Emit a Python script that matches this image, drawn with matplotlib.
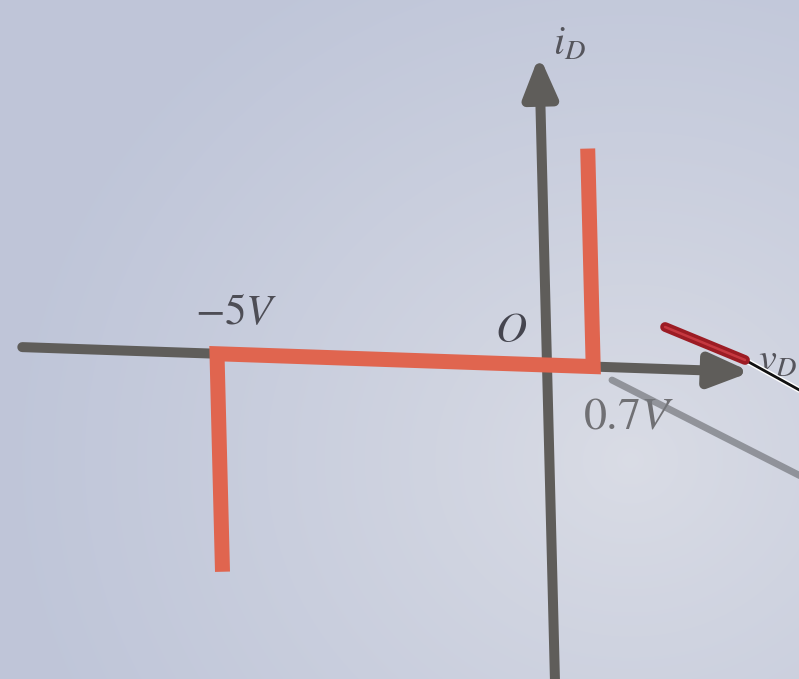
"""Diode i-v characteristic with a -5 V breakdown and a 0.7 V forward knee,
drawn as a projected slide (slightly skewed axes, pointer resting on it)."""

import matplotlib

matplotlib.use("Agg")
import matplotlib.pyplot as plt
import numpy as np
from matplotlib.transforms import Affine2D

plt.rcParams["mathtext.fontset"] = "stix"

# axis extents (volts, mA)
V_AXIS = [-7.95, 3.09]
I_AXIS = [-14.6, 14.2]

# piecewise-linear characteristic: breakdown at -5 V, conduction at 0.7 V
CURVE_V = [-5.0, -5.0, 0.7, 0.7]
CURVE_I = [-10.0, 0.0, 0.0, 10.0]

# labels: (text, v, i, fontsize, colour)
LABELS = [
    (r"$i_D$", 0.47, 14.8, 29, "#55555c"),
    (r"$-5V$", -4.69, 1.95, 31, "#4d4d55"),
    (r"$O$", -0.53, 1.55, 31, "#45454f"),
    (r"$\mathrm{0.7}V$", 1.21, -2.2, 33, "#707074"),
    (r"$v_D$", 3.5, 0.55, 29, "#55555c"),
]

# laser pointer resting on the slide and its shadow (same v/i coordinates)
POINTER_RED_V = [1.805, 3.005]
POINTER_RED_I = [1.93, 0.54]
POINTER_ROD_V = [3.005, 3.9]
POINTER_ROD_I = [0.54, -0.885]
SHADOW_V = [0.98, 3.865]
SHADOW_I = [-0.59, -4.79]

W, H = 799, 679
AXIS_GREY = "#5f5d5a"
CURVE_RED = "#e0654f"

fig = plt.figure(figsize=(W / 100, H / 100), dpi=100)
ax = fig.add_axes([0, 0, 1, 1])
ax.set_xlim(0, W)
ax.set_ylim(H, 0)
ax.axis("off")

# soft projector background, a little brighter right of centre
yy, xx = np.mgrid[0:H, 0:W]
r = np.hypot((xx - 630) / 620.0, (yy - 460) / 560.0)
inner = np.array([0.855, 0.865, 0.9])
outer = np.array([0.75, 0.775, 0.85])
t = np.clip(r, 0, 1)[..., None] ** 0.85
bg = inner * (1 - t) + outer * t
ax.imshow(bg, extent=(0, W, H, 0), zorder=0, interpolation="bilinear")

# (v, i) -> slide pixels, with the photo's slight skew
skew = Affine2D(np.array([[66.0, -0.55, 547.0], [2.25, -21.8, 365.0], [0.0, 0.0, 1.0]]))
tr = skew + ax.transData

arrow_kw = dict(
    arrowstyle="-|>,head_length=24,head_width=10",
    mutation_scale=1,
    color=AXIS_GREY,
    lw=7.2,
    shrinkA=0,
    shrinkB=0,
)
ax.annotate("", xy=(V_AXIS[1], 0), xytext=(V_AXIS[0], 0),
            xycoords=tr, textcoords=tr, arrowprops=arrow_kw, zorder=2)
ax.annotate("", xy=(0, I_AXIS[1]), xytext=(0, I_AXIS[0]),
            xycoords=tr, textcoords=tr, arrowprops=arrow_kw, zorder=2)

ax.plot(CURVE_V, CURVE_I, color=CURVE_RED, lw=10.8, transform=tr,
        solid_capstyle="butt", solid_joinstyle="miter", zorder=3)

for text, v, i, size, colour in LABELS:
    ax.text(v, i, text, transform=tr, fontsize=size, color=colour,
            ha="center", va="center", zorder=4)

# pointer shadow, then the pointer itself
ax.plot(SHADOW_V, SHADOW_I, color="#74767c", lw=5.0, alpha=0.7,
        transform=tr, solid_capstyle="round", zorder=5)
ax.plot(POINTER_ROD_V, POINTER_ROD_I, color="white", lw=4.0,
        transform=tr, solid_capstyle="butt", zorder=6)
ax.plot(POINTER_ROD_V, POINTER_ROD_I, color="#111111", lw=2.0,
        transform=tr, solid_capstyle="butt", zorder=7)
ax.plot(POINTER_RED_V, POINTER_RED_I, color="#9c1c24", lw=7.0,
        transform=tr, solid_capstyle="round", zorder=7)
ax.plot(POINTER_RED_V, POINTER_RED_I, color="#d04048", lw=1.8, alpha=0.8,
        transform=tr, solid_capstyle="round", zorder=8)

fig.savefig("out.png", dpi=100)
